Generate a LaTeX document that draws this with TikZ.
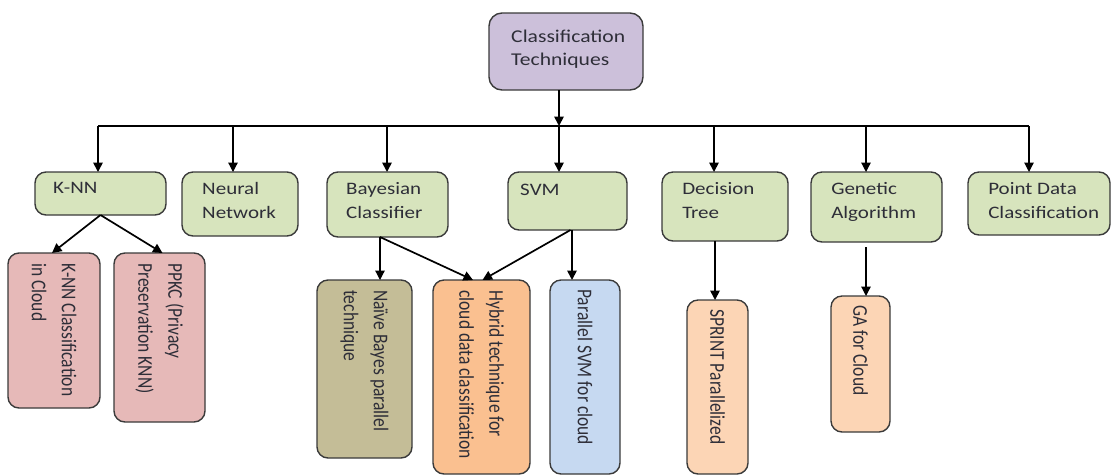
\documentclass[tikz,border=0pt]{standalone}
\usepackage{fontspec}
\setmainfont{Carlito}
\usetikzlibrary{arrows.meta}

\definecolor{boxline}{HTML}{3A3A3A}
\definecolor{txt}{HTML}{2E2E38}
\definecolor{rootfill}{HTML}{CCC0DA}
\definecolor{greenfill}{HTML}{D7E4BD}
\definecolor{pinkfill}{HTML}{E6B9B8}
\definecolor{khakifill}{HTML}{C4BD97}
\definecolor{orangefill}{HTML}{FAC090}
\definecolor{bluefill}{HTML}{C6D9F1}
\definecolor{peachfill}{HTML}{FCD5B5}

\begin{document}
\begin{tikzpicture}[x=1pt,y=-1pt,
  box/.style={draw=boxline, line width=1.4pt, rounded corners=11pt,
              inner sep=0pt, outer sep=0pt},
  htext/.style={anchor=north west, inner sep=0pt, align=left, xscale=1.2,
                text=txt, font=\fontsize{17.5}{24}\selectfont},
  vtext/.style={anchor=west, inner sep=0pt, align=left, rotate=-90, yscale=1.2,
                text=txt, font=\fontsize{17.5}{25}\selectfont},
  link/.style={line width=1.7pt, -{Triangle[length=9.5pt,width=9.5pt]}},
  thinlink/.style={line width=1.2pt, -{Triangle[length=9.5pt,width=9.5pt]}}
]
\useasboundingbox (0,0) rectangle (1115,475);

% root
\node[box, rounded corners=13pt, fill=rootfill, minimum width=154, minimum height=77] (root) at (566,51.5) {};
\node[htext, font=\fontsize{18}{23}\selectfont] (root-t) at ([shift={(22,17)}]root.north west) {Classification\\Techniques};

% first level
\node[box, fill=greenfill, minimum width=131, minimum height=43] (knn) at (100.5,193.5) {};
\node[box, fill=greenfill, minimum width=116, minimum height=64] (nn) at (240,204) {};
\node[box, fill=greenfill, minimum width=121, minimum height=65] (bay) at (387.5,204.5) {};
\node[box, fill=greenfill, minimum width=119, minimum height=58] (svm) at (567.5,201) {};
\node[box, fill=greenfill, minimum width=126, minimum height=69] (dt) at (725,206.5) {};
\node[box, fill=greenfill, minimum width=131, minimum height=70] (gen) at (876.5,207) {};
\node[box, fill=greenfill, minimum width=142, minimum height=63] (pd) at (1039,203.5) {};

\node[htext] (knn-t) at ([shift={(18,10)}]knn.north west) {K-NN};
\node[htext] (nn-t)  at ([shift={(20,10)}]nn.north west) {Neural\\Network};
\node[htext] (bay-t) at ([shift={(19,10)}]bay.north west) {Bayesian\\Classifier};
\node[htext] (svm-t) at ([shift={(12,12)}]svm.north west) {SVM};
\node[htext] (dt-t)  at ([shift={(20,10)}]dt.north west) {Decision\\Tree};
\node[htext] (gen-t) at ([shift={(20,10)}]gen.north west) {Genetic\\Algorithm};
\node[htext] (pd-t)  at ([shift={(20,10)}]pd.north west) {Point Data\\Classification};

% second level
\node[box, fill=pinkfill, minimum width=92, minimum height=155] (knnc) at (54,330.5) {};
\node[box, fill=pinkfill, minimum width=91, minimum height=169] (ppkc) at (159.5,337.5) {};
\node[box, fill=khakifill, minimum width=95, minimum height=178] (nb) at (364.5,369) {};
\node[box, fill=orangefill, minimum width=97, minimum height=194] (hy) at (481.5,377) {};
\node[box, fill=bluefill, minimum width=70, minimum height=194] (psvm) at (585,377) {};
\node[box, fill=peachfill, minimum width=61, minimum height=174] (sp) at (717.5,387) {};
\node[box, fill=peachfill, minimum width=59, minimum height=136] (ga) at (860.5,364) {};

\node[vtext] (knnc-t) at ([yshift=-10pt]knnc.north) {K-NN Classification\\in Cloud};
\node[vtext] (ppkc-t) at ([yshift=-10pt]ppkc.north) {PPKC (Privacy\\Preservation KNN)};
\node[vtext] (nb-t)   at ([yshift=-10pt]nb.north) {Naïve Bayes parallel\\technique};
\node[vtext] (hy-t)   at ([yshift=-10pt]hy.north) {Hybrid technique for\\cloud data classification};
\node[vtext] (psvm-t) at ([yshift=-9pt]psvm.north) {Parallel SVM for cloud};
\node[vtext] (sp-t)   at ([yshift=-9pt]sp.north) {SPRINT Parallelized};
\node[vtext] (ga-t)   at ([yshift=-9pt]ga.north) {GA for Cloud};

% distribution bus
\coordinate (bknn) at (98,126);
\coordinate (bnn)  at (233,126);
\coordinate (bbay) at (387,126);
\coordinate (bmid) at (559,126);
\coordinate (bdt)  at (714,126);
\coordinate (bgen) at (866,126);
\coordinate (bpd)  at (1029,126);

\draw[line width=1.2pt] (bknn) -- (bpd);
\draw[link] (root.south -| bmid) -- (bmid);

\draw[link]     (bknn) -- (bknn |- knn.north);
\draw[thinlink] (bnn)  -- (bnn |- nn.north);
\draw[link]     (bbay) -- (bbay |- bay.north);
\draw[link]     (bmid) -- (bmid |- svm.north);
\draw[link]     (bdt)  -- (bdt |- dt.north);
\draw[thinlink] (bgen) -- (bgen |- gen.north);
\draw[thinlink] (bpd)  -- (bpd |- pd.north);

% second-level links
\draw[link] (knn.south) -- ([xshift=-2pt]knnc.north);
\draw[link] (knn.south) -- ([xshift=3pt]ppkc.north);
\draw[thinlink] ([xshift=-7.5pt]bay.south) -- ([xshift=15.5pt]nb.north);
\draw[link] ([xshift=-7.5pt]bay.south) -- ([xshift=-8.5pt]hy.north);
\draw[link] ([xshift=3pt]svm.south) -- ([xshift=1pt]hy.north);
\draw[link] ([xshift=4.5pt]svm.south) -- ([xshift=-13pt]psvm.north);
\draw[link] ([xshift=-10pt]dt.south) -- ([xshift=-2.5pt]sp.north);
\draw[thinlink] ([xshift=-10.5pt,yshift=-5pt]gen.south) -- ([xshift=5.5pt]ga.north);
\end{tikzpicture}
\end{document}
